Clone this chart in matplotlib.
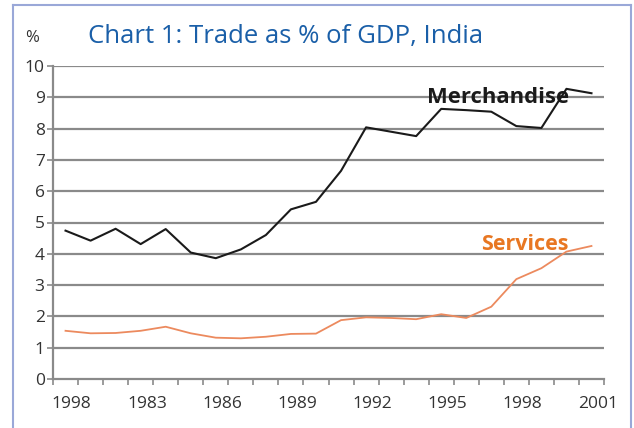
import matplotlib
matplotlib.use("Agg")
import matplotlib.pyplot as plt
from matplotlib.lines import Line2D
import numpy as np

# data (1980-2001, yearly)
years = list(range(1980, 2002))
merchandise = [4.74, 4.42, 4.80, 4.31, 4.79, 4.04, 3.86, 4.14, 4.60, 5.42, 5.66,
               6.65, 8.04, 7.90, 7.76, 8.63, 8.59, 8.54, 8.08, 8.02, 9.27, 9.13]
services = [1.54, 1.46, 1.47, 1.54, 1.67, 1.46, 1.32, 1.30, 1.35, 1.44, 1.45,
            1.88, 1.97, 1.95, 1.91, 2.07, 1.95, 2.31, 3.19, 3.54, 4.07, 4.25]
# labels as printed in the original (first one is a typo there)
xtick_labels = ["1998", "1983", "1986", "1989", "1992", "1995", "1998", "2001"]

plt.rcParams['font.family'] = ['Open Sans', 'DejaVu Sans']

fig = plt.figure(figsize=(6.34, 4.28), dpi=100)
ax = fig.add_axes([53 / 634, 1 - 379 / 428, 551 / 634, 313 / 428])

x = np.arange(len(years))
grid_c = '#8a8a8a'

# horizontal gridlines
for v in range(1, 11):
    ax.axhline(v, color=grid_c, lw=1.6, zorder=1)

ax.plot(x, merchandise, color='#1a1a1a', lw=1.5, zorder=3)
ax.plot(x, services, color='#ec8a5e', lw=1.3, zorder=3)

ax.set_xlim(-0.5, len(years) - 0.5)
ax.set_ylim(0, 10)

for s in ['top', 'right']:
    ax.spines[s].set_visible(False)
for s in ['left', 'bottom']:
    ax.spines[s].set_color(grid_c)
    ax.spines[s].set_linewidth(1.6)

ax.set_yticks(range(0, 11))
ax.tick_params(axis='y', length=4, color=grid_c, width=1.2, labelsize=12.5,
               pad=2, labelcolor='#333333')

# tick marks between categories, labels every third year
ax.set_xticks(np.arange(-0.5, len(years)), minor=True)
ax.set_xticks(np.arange(0, len(years), 3) + 0.25)
ax.set_xticklabels(xtick_labels)
ax.tick_params(axis='x', which='minor', length=4, color=grid_c, width=1.2)
ax.tick_params(axis='x', which='major', length=0, labelsize=12.5, pad=12,
               labelcolor='#333333')

fig.text(32 / 634, 1 - 38 / 428, "%", fontsize=12, color='#333333',
         ha='center', va='center')
fig.text(88 / 634, 1 - 37 / 428, "Chart 1: Trade as % of GDP, India",
         fontsize=18.5, color='#1a5fa8', ha='left', va='center')

ax.text(20.1, 9.0, "Merchandise", fontsize=15.8, fontweight='bold',
        color='#1a1a1a', ha='right', va='center', zorder=4)
ax.text(20.1, 4.3, "Services", fontsize=15.5, fontweight='bold',
        color='#e87722', ha='right', va='center', zorder=4)

# light blue frame around the chart
bc = '#9aa8d8'
fig.add_artist(Line2D([13 / 634, 13 / 634], [0, 1 - 5 / 428], color=bc, lw=1.5))
fig.add_artist(Line2D([13 / 634, 631 / 634], [1 - 5 / 428, 1 - 5 / 428], color=bc, lw=1.5))
fig.add_artist(Line2D([631 / 634, 631 / 634], [0, 1 - 5 / 428], color=bc, lw=1.5))

fig.savefig("out.png", dpi=100)
